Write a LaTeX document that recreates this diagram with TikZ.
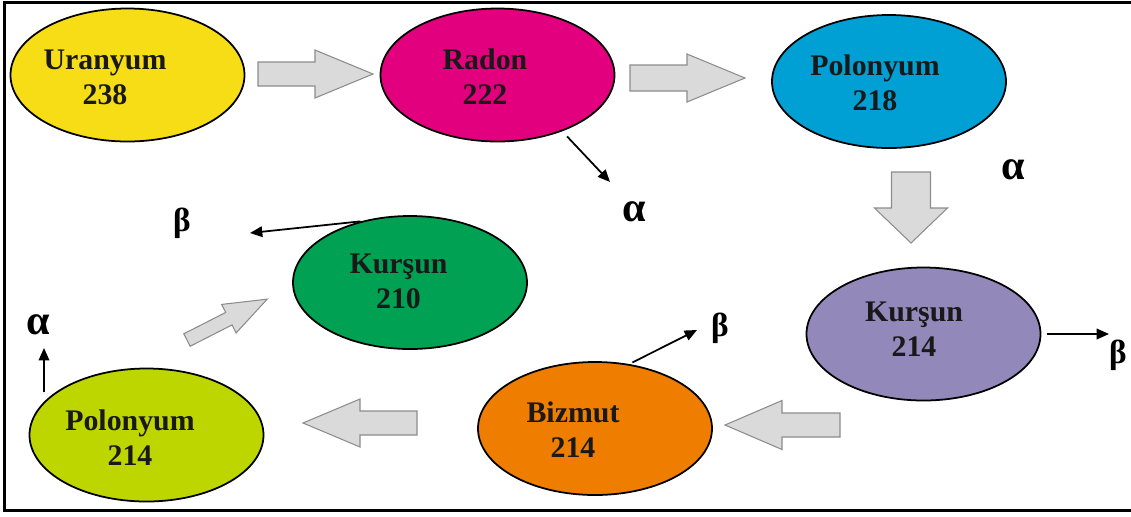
\documentclass[tikz,border=0pt]{standalone}
\usepackage{fontspec}
\setmainfont{Liberation Serif}
\usepackage{tikz}
\usetikzlibrary{arrows.meta}
\usetikzlibrary{shapes.geometric,positioning}
\definecolor{uranyellow}{RGB}{247,221,21}
\definecolor{radonpink}{RGB}{226,0,126}
\definecolor{poloblue}{RGB}{0,159,212}
\definecolor{leadpurple}{RGB}{146,136,186}
\definecolor{bizorange}{RGB}{239,125,0}
\definecolor{leadgreen}{RGB}{0,161,82}
\definecolor{pololime}{RGB}{190,214,0}
\definecolor{flowgray}{RGB}{218,218,218}

\begin{document}
\begin{tikzpicture}[
    iso/.style={ellipse,draw=black,line width=1pt,minimum width=4.68cm,minimum height=2.66cm,inner sep=0pt},
    isotext/.style={font=\bfseries\fontsize{17}{19.8}\selectfont,align=center,text=black!90},
    ray/.style={line width=1pt,-{Triangle[length=7pt,width=6pt]}},
    alphalbl/.style={font=\bfseries\fontsize{24}{24}\selectfont},
    betalbl/.style={font=\bfseries\fontsize{19}{19}\selectfont},
    flowbox/.style={fill=flowgray,draw=black!45,line width=0.6pt},
    pics/flow/.style n args={4}{code={
      \draw[flowbox] (0,-#3/2) -- (#1-#2,-#3/2) -- (#1-#2,-#4/2) -- (#1,0)
        -- (#1-#2,#4/2) -- (#1-#2,#3/2) -- (0,#3/2) -- cycle;
    }}
  ]
   \useasboundingbox (0,0) rectangle (22.62,-10.32);

   % frame
   \draw[line width=2pt] (22.62,-0.05) -- (0.09,-0.05) -- (0.09,-10.21) -- (22.62,-10.21);

   % the seven nuclei
   \node[iso,fill=uranyellow] (uran) at (2.55,-1.50) {};
   \node[iso,fill=radonpink] (radon) at (9.95,-1.50) {};
   \node[iso,fill=poloblue] (pol218) at (17.78,-1.63) {};
   \node[iso,fill=leadpurple] (kur214) at (18.47,-6.68) {};
   \node[iso,fill=bizorange] (biz) at (11.90,-8.57) {};
   \node[iso,fill=pololime] (pol214) at (2.93,-8.70) {};
   \node[iso,fill=leadgreen] (kur210) at (8.20,-5.65) {};

   \node[isotext] (uran-txt) at ([xshift=-0.45cm,yshift=-0.04cm]uran.center) {Uranyum\\238};
   \node[isotext] (radon-txt) at ([xshift=-0.25cm,yshift=-0.03cm]radon.center) {Radon\\222};
   \node[isotext] (pol218-txt) at ([xshift=-0.28cm,yshift=-0.02cm]pol218.center) {Polonyum\\218};
   \node[isotext] (kur214-txt) at ([xshift=-0.19cm,yshift=0.09cm]kur214.center) {Kurşun\\214};
   \node[isotext] (biz-txt) at ([xshift=-0.44cm,yshift=-0.02cm]biz.center) {Bizmut\\214};
   \node[isotext] (pol214-txt) at ([xshift=-0.33cm,yshift=-0.05cm]pol214.center) {Polonyum\\214};
   \node[isotext] (kur210-txt) at ([xshift=-0.23cm,yshift=0.02cm]kur210.center) {Kurşun\\210};

   % grey block arrows of the chain
   \pic at (5.16,-1.48) {flow={2.30}{1.16}{0.48}{0.96}};
   \pic at (12.60,-1.56) {flow={2.30}{1.16}{0.52}{0.96}};
   \pic[rotate=-90] at (18.22,-3.44) {flow={1.42}{0.70}{0.78}{1.46}};
   \pic[rotate=180] at (16.80,-8.50) {flow={2.30}{1.14}{0.48}{0.98}};
   \pic[rotate=180] at (8.34,-8.46) {flow={2.28}{1.14}{0.48}{0.96}};
   \pic[rotate=27] at (3.74,-6.80) {flow={1.80}{0.86}{0.28}{0.64}};

   % emitted particles
   \coordinate (radon-a) at (12.20,-3.64);
   \coordinate (kur214-b) at (22.18,-6.68);
   \coordinate (biz-b) at (13.94,-6.60);
   \coordinate (kur210-b) at (5.00,-4.66);
   \coordinate (pol214-a) at (0.88,-6.96);

   \draw[ray,shorten <=4pt] (radon.-41) -- (radon-a);
   \draw[ray,shorten <=3pt] (kur214.east) -- (kur214-b);
   \draw[ray,shorten <=2pt] (biz.62) -- (biz-b);
   \draw[ray] (kur210.129) -- (kur210-b);
   \draw[ray] (pol214.155 -| pol214-a) -- (pol214-a);

   \node[alphalbl] (radon-alpha) at (12.68,-4.24) {α};
   \node[alphalbl] (pol218-alpha) at (20.26,-3.40) {α};
   \node[betalbl] (kur214-beta) at (22.36,-7.10) {β};
   \node[betalbl] (biz-beta) at (14.40,-6.56) {β};
   \node[betalbl] (kur210-beta) at (3.64,-4.46) {β};
   \node[alphalbl] (pol214-alpha) at (0.76,-6.50) {α};

\end{tikzpicture}
\end{document}
